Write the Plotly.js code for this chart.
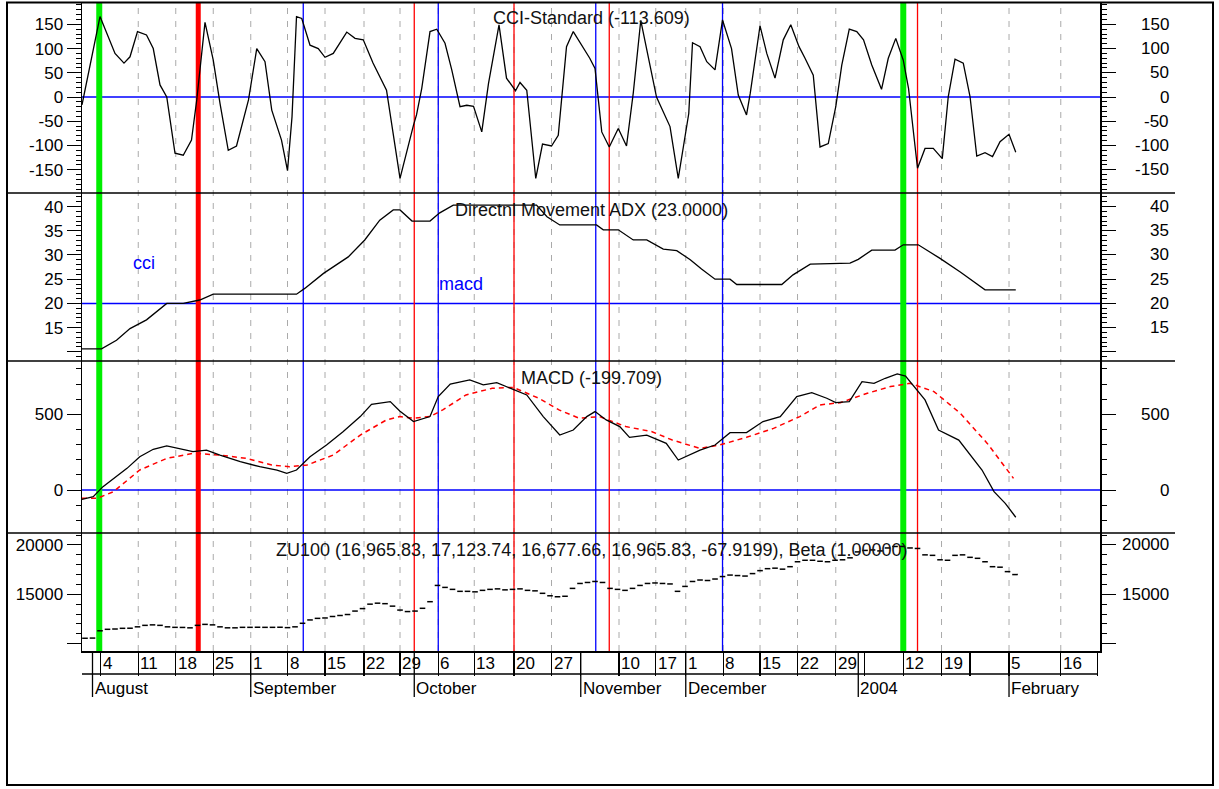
<!DOCTYPE html>
<html><head><meta charset="utf-8">
<script src="https://cdn.plot.ly/plotly-3.0.1.min.js"></script>
<style>html,body{margin:0;padding:0;background:#fff}</style>
</head><body><div id="chart" style="width:1219px;height:789px"></div>
<script>
// ---------- DATA (x = trading-bar index) ----------
const cciX = [0,2.4,4.4,5.6,6.4,7.4,8.6,9.5,10.4,11.3,
  12.4,13.5,14.6,15.3,16.4,17.5,18.4,19.5,20.6,22.2,
  23.3,24.4,25.3,26.6,27.4,28.0,28.6,29.3,30.4,31.5,
  32.4,33.5,35.3,36.4,37.5,38.8,40.6,41.3,42.4,44.2,
  44.6,45.3,46.4,47.3,48.4,49.3,50.4,51.3,52.2,53.3,
  54.2,55.6,56.6,57.8,58.4,59.3,60.5,61.4,62.6,63.5,
  64.2,64.6,65.5,66.6,67.7,68.4,68.8,69.3,70.3,71.5,
  72.6,73.5,74.5,76.6,78.4,79.5,80.9,81.4,82.4,83.3,
  84.4,85.4,86.6,87.5,88.6,89.1,90.4,91.3,92.4,93.5,
  94.5,95.6,96.4,97.5,98.4,99.5,100.5,101.3,102.3,103.3,
  104.2,105.3,106.6,107.5,108.5,109.5,110.2,111.4,112.4,113.5,
  114.7,115.5,116.4,117.5,118.4,119.3,120.4,121.4,122.4,123.6,124.5];
const cciY = [-16,166,90,70,83,135,128,100,25,0,
  -116,-120,-89,-6,154,76,-13,-110,-101,-6,
  100,73,-27,-89,-152,-41,166,162,107,100,
  82,90,134,121,118,70,14,-54,-168,-58,
  -37,18,135,140,111,56,-20,-17,-19,-72,
  28,149,39,13,30,14,-168,-97,-101,-79,
  28,104,135,107,80,59,-6,-72,-103,-65,
  -101,8,158,0,-61,-168,-34,112,104,73,
  56,159,100,4,-37,8,147,90,39,118,
  149,104,80,45,-103,-96,-20,66,140,135,
  118,66,16,80,121,76,18,-147,-106,-106,
  -127,1,78,70,1,-122,-115,-123,-92,-77,-114];

const adxX = [0,2.6,4.6,6.4,8.6,11.3,13.5,15.7,17.5,28.6,
  29.7,32.2,35.5,37.7,39.7,41.5,42.4,44.0,46.4,47.7,
  49.5,60.6,62.0,63.7,68.6,69.5,71.5,73.5,75.3,77.5,
  79.3,81.1,82.6,84.4,86.4,87.3,93.3,94.8,97.1,102.4,
  103.5,105.3,108.4,109.5,111.5,114.4,117.1,120.4,124.5];
const adxY = [10.6,10.6,12.4,14.8,16.6,20.0,20.0,20.7,21.9,21.9,
  23.1,26.2,29.6,33.1,37.2,39.3,39.3,37.0,37.0,38.7,
  40.3,40.3,37.9,36.2,36.2,35.2,35.2,33.1,33.1,31.2,
  30.9,29.0,27.1,25.0,25.0,23.9,23.9,25.9,28.1,28.3,
  29.1,31.0,31.0,32.1,32.1,29.3,26.5,22.8,22.8];

const macdX = [0,1.5,2.8,4.2,6.0,7.7,9.5,11.3,13.1,14.8,
  16.6,18.4,21.1,23.7,26.0,27.3,28.6,30.4,32.6,34.8,
  37.1,38.6,41.1,42.4,44.2,46.4,47.5,49.1,51.7,53.5,
  55.3,57.5,59.3,61.5,63.7,65.5,67.3,68.4,69.9,71.7,
  73.0,75.3,77.9,79.5,82.4,84.4,86.4,88.6,90.8,93.1,
  95.3,97.3,99.3,100.5,102.3,104.0,105.6,107.1,108.7,109.8,
  111.1,112.4,114.2,116.9,120.0,121.6,123.1,124.5];
const macdY = [-62,-44,22,77,143,220,269,291,269,253,
  264,231,187,154,132,110,132,220,297,385,
  485,566,584,520,452,485,617,700,727,694,
  709,665,628,485,363,396,485,518,463,419,
  348,363,308,198,264,297,379,379,452,485,
  617,643,606,577,584,716,705,738,767,753,
  672,595,396,330,132,-11,-88,-180];

const sigX = [0,2.0,4.2,7.7,11.3,14.8,18.4,21.9,25.3,27.7,
  30.0,33.5,37.1,40.6,42.4,44.2,46.4,48.1,51.2,54.7,
  57.5,60.9,63.6,66.3,69.0,72.5,76.0,78.7,82.4,85.0,
  88.6,92.2,95.7,98.4,101.1,104.7,107.8,110.4,113.6,117.1,
  120.7,124.2];
const sigY = [-55,-55,-11,132,209,242,231,209,165,154,
  165,231,363,463,485,474,485,529,628,672,
  678,606,529,474,485,419,385,330,275,297,
  348,407,485,562,577,639,683,705,650,507,
  308,77];

// ZU100 closes, one per bar (bar i drawn at i + 0.4)
const priceY = [10540,10560,11300,11450,11480,11550,11560,11700,11850,11900,
  11850,11700,11650,11640,11600,11850,11950,11900,11700,11600,
  11600,11650,11650,11660,11650,11650,11660,11620,11700,12060,
  12400,12560,12600,12750,12850,12950,13300,13550,14000,14100,
  14050,13800,13400,13250,13300,13580,14250,15900,15700,15500,
  15300,15300,15250,15400,15500,15550,15450,15500,15550,15400,
  15350,15100,14850,14750,14800,15600,16100,16200,16300,16200,
  15600,15500,15400,15600,15900,16100,16150,16100,16050,15300,
  15800,16300,16450,16400,16550,16800,16950,16900,16850,17100,
  17400,17600,17650,17550,17800,18300,18450,18450,18350,18300,
  18450,18500,18700,19300,19450,19500,19400,19700,19850,19850,
  19700,19650,19000,18950,18500,18450,18950,19000,18750,18650,
  18300,17800,17750,17300,17000];

// date axis
const dayTickPos = [2.5,7.5,12.5,17.5,22.5,27.4,32.4,37.6,42.4,47.5,52.3,57.6,62.6,66.5,71.6,76.5,80.5,85.5,90.4,95.4,100.5,104.3,109.5,114.6,118.4,123.6,130.5,135.4];
const dayTickText = ['4','11','18','25','1','8','15','22','29','6','13','20','27','','10','17','1','8','15','22','29','','12','19','','5','16',''];
const monthPos = [1.4,22.5,44.3,66.5,80.5,103.5,123.6];
const monthText = ['August','September','October','November','December','2004','February'];

// signal markers
const greenLines = [2.3,109.5];
const redThickLines = [15.5];
const redThinLines = [44.3,57.6,70.3,111.4];
const blueLines = [29.5,47.5,68.5,85.4];

// axis ticks
const cciTicks = [-150,-100,-50,0,50,100,150];
const adxTicks = [10,15,20,25,30,35,40];
const adxTickText = ['','15','20','25','30','35','40'];
const macdTicks = [0,500];
const priceTicks = [10000,15000,20000];
const priceTickText = ['','15000','20000'];

const titles = ['CCI-Standard (-113.609)','Directnl Movement ADX (23.0000)','MACD (-199.709)',
  'ZU100 (16,965.83, 17,123.74, 16,677.66, 16,965.83, -67.9199), Beta (1.00000)'];

// ---------- LAYOUT ----------
const FONT = 'Liberation Sans, Arial, sans-serif';
const L = 82, T = 3, W = 1018, H = 648, BOT = T + H;
const px2x = p => (p - L) / W;
const py2y = p => (BOT - p) / H;
const priceX = priceY.map((_, i) => i + 0.4);

function yax(domain, range, tickvals, ticktext, minorDtick) {
  return {domain, range, anchor: 'x', tickmode: 'array', tickvals, ticktext,
    ticks: 'outside', ticklen: 14, tickwidth: 1, tickcolor: '#000',
    minor: {ticks: 'outside', ticklen: 5, dtick: minorDtick, tick0: 0, tickwidth: 1, tickcolor: '#000', showgrid: false},
    showline: true, linecolor: '#000', linewidth: 1.5, mirror: 'ticks',
    showgrid: false, zeroline: false, fixedrange: true,
    tickfont: {family: FONT, size: 17, color: '#000'}};
}

const traces = [
  {x: cciX, y: cciY, xaxis: 'x', yaxis: 'y', mode: 'lines', line: {color: '#000', width: 1.3}, hoverinfo: 'skip'},
  {x: adxX, y: adxY, xaxis: 'x', yaxis: 'y2', mode: 'lines', line: {color: '#000', width: 1.3}, hoverinfo: 'skip'},
  {x: sigX, y: sigY, xaxis: 'x', yaxis: 'y3', mode: 'lines', line: {color: '#ff0000', width: 1.5, dash: '5px,4px'}, hoverinfo: 'skip'},
  {x: macdX, y: macdY, xaxis: 'x', yaxis: 'y3', mode: 'lines', line: {color: '#000', width: 1.3}, hoverinfo: 'skip'},
  {x: priceX, y: priceY, xaxis: 'x', yaxis: 'y4', mode: 'markers',
   marker: {symbol: 'line-ew', size: 4, line: {color: '#000', width: 1.5}}, hoverinfo: 'skip'}
];

const shapes = [];
// outer frame
shapes.push({type: 'rect', xref: 'paper', yref: 'paper', x0: px2x(7), x1: px2x(1213), y0: py2y(785), y1: py2y(2.5),
  line: {color: '#000', width: 2}, layer: 'above'});
// panel separators
[193, 361, 533].forEach(py => shapes.push({type: 'line', xref: 'paper', yref: 'paper', x0: px2x(7), x1: px2x(1175),
  y0: py2y(py), y1: py2y(py), line: {color: '#000', width: 1.5}, layer: 'above'}));
// week grid lines
dayTickPos.forEach((p, i) => { if (dayTickText[i]) shapes.push({type: 'line', xref: 'x', yref: 'paper', x0: p, x1: p, y0: 0, y1: 1,
  line: {color: '#aaaaaa', width: 1, dash: '6px,7px'}, layer: 'below'}); });
// zero / reference lines
[['y', 0], ['y2', 20], ['y3', 0]].forEach(([ax, v]) => shapes.push({type: 'line', xref: 'paper', yref: ax, x0: 0, x1: 1, y0: v, y1: v,
  line: {color: '#0000ff', width: 1.5}, layer: 'below'}));
// signal lines
const vline = (p, color, width) => shapes.push({type: 'line', xref: 'x', yref: 'paper', x0: p, x1: p, y0: 0, y1: 1,
  line: {color, width}, layer: 'below'});
greenLines.forEach(p => vline(p, '#00ee00', 6));
redThickLines.forEach(p => vline(p, '#ff0000', 5));
redThinLines.forEach(p => vline(p, '#ff0000', 1.3));
blueLines.forEach(p => vline(p, '#0000ff', 1.3));
// date rows
shapes.push({type: 'line', xref: 'paper', yref: 'paper', x0: 0, x1: px2x(1098), y0: py2y(674), y1: py2y(674), line: {color: '#000', width: 1.3}});
monthPos.forEach(p => shapes.push({type: 'line', xref: 'x', yref: 'paper', x0: p, x1: p, y0: py2y(651), y1: py2y(697), line: {color: '#000', width: 1.3}}));

const annotations = [];
const titleY = [18, 210, 378, 550];
titles.forEach((t, i) => annotations.push({text: t, xref: 'paper', yref: 'paper', x: 0.5, y: py2y(titleY[i]), xanchor: 'center', yanchor: 'middle',
  showarrow: false, font: {family: FONT, size: 18, color: '#111'}}));
annotations.push({text: 'cci', xref: 'paper', yref: 'paper', x: px2x(131), y: py2y(263), xanchor: 'left', yanchor: 'middle', showarrow: false,
  font: {family: FONT, size: 18, color: '#0000ff'}});
annotations.push({text: 'macd', xref: 'paper', yref: 'paper', x: px2x(437), y: py2y(284), xanchor: 'left', yanchor: 'middle', showarrow: false,
  font: {family: FONT, size: 18, color: '#0000ff'}});
// right-side axis labels
const rightLab = (ref, vals, texts) => vals.forEach((v, i) => { const t = texts ? texts[i] : String(v); if (t) annotations.push({text: t, xref: 'paper', yref: ref,
  x: px2x(1171), y: v, xanchor: 'right', yanchor: 'middle', showarrow: false, font: {family: FONT, size: 17, color: '#000'}}); });
rightLab('y', cciTicks); rightLab('y2', adxTicks, adxTickText); rightLab('y3', macdTicks); rightLab('y4', priceTicks, priceTickText);
// day and month labels
dayTickPos.forEach((p, i) => { if (dayTickText[i]) annotations.push({text: dayTickText[i], xref: 'x', yref: 'paper', x: p, y: py2y(663), xanchor: 'left', yanchor: 'middle',
  xshift: 0, showarrow: false, font: {family: FONT, size: 17, color: '#000'}}); });
monthPos.forEach((p, i) => annotations.push({text: monthText[i], xref: 'x', yref: 'paper', x: p, y: py2y(688), xanchor: 'left', yanchor: 'middle',
  xshift: 0, showarrow: false, font: {family: FONT, size: 17, color: '#000'}}));

const layout = {
  width: 1219, height: 789, margin: {l: L, r: 1219 - L - W, t: T, b: 789 - BOT},
  paper_bgcolor: '#fff', plot_bgcolor: '#fff', showlegend: false,
  xaxis: {range: [0, 135.73], anchor: 'y4', tickmode: 'array', tickvals: dayTickPos, ticks: 'outside', ticklen: 23, tickwidth: 1.3, tickcolor: '#000',
    showticklabels: false, showgrid: false, zeroline: false, showline: true, linecolor: '#000', linewidth: 1.5, fixedrange: true},
  yaxis: yax([0.7068, 1], [-198, 194], cciTicks, cciTicks.map(String), 10),
  yaxis2: yax([0.4475, 0.7068], [8.1, 42.8], adxTicks, adxTickText, 1),
  yaxis3: yax([0.1821, 0.4475], [-284, 852], macdTicks, macdTicks.map(String), 100),
  yaxis4: yax([0, 0.1821], [9250, 21217], priceTicks, priceTickText, 1000),
  shapes, annotations
};

Plotly.newPlot('chart', traces, layout, {staticPlot: true, displayModeBar: false});
</script></body></html>
